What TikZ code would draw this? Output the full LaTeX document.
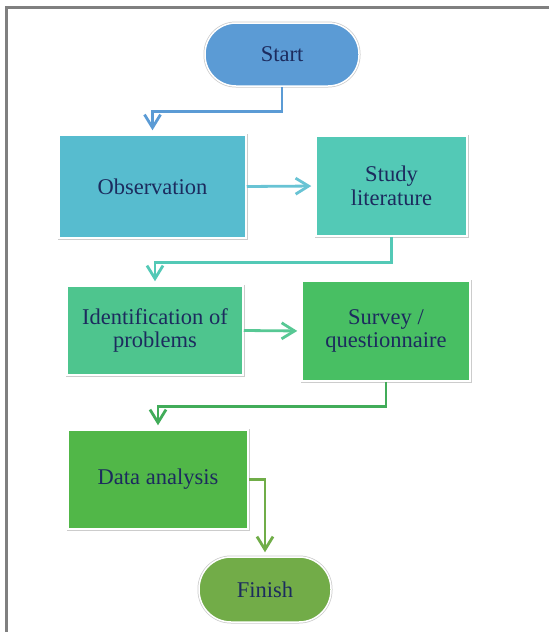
\documentclass[tikz,border=0pt]{standalone}
\usepackage{fontspec}
\setmainfont{Liberation Serif}
\usetikzlibrary{arrows.meta}
\definecolor{cstart}{HTML}{5B9BD5}
\definecolor{cobs}{HTML}{57BCCF}
\definecolor{cstudy}{HTML}{53C9B6}
\definecolor{cident}{HTML}{4EC58E}
\definecolor{csurvey}{HTML}{48BF63}
\definecolor{cdata}{HTML}{51B748}
\definecolor{cfinish}{HTML}{72AC48}
\definecolor{ctext}{HTML}{1C2B5E}
\definecolor{cframe}{HTML}{808080}
\tikzset{
  box/.style={rectangle, inner sep=2pt, align=center, text=ctext,
    font=\fontsize{22.5}{23.5}\selectfont,
    preaction={draw=black!20, line width=3pt},
    draw=white, line width=1.5pt},
  term/.style={box, rounded corners=31pt},
  conn/.style={line width=2.8pt, -{Straight Barb[length=13pt,width=16pt,line width=2.8pt]}, shorten >=4pt}
}
\begin{document}
\begin{tikzpicture}[x=1pt,y=-1pt]
\useasboundingbox (0,0) rectangle (549,632);
\draw[cframe, line width=2.5pt] (6.5,632) -- (6.5,7.5) -- (549,7.5);
\node[term, fill=cstart, minimum width=154pt, minimum height=63pt] (start) at (282,54.5) {Start};
\node[box, fill=cobs, minimum width=187pt, minimum height=103pt] (obs) at (152.5,186.5) {Observation};
\node[box, fill=cstudy, minimum width=151pt, minimum height=100pt] (study) at (391.5,186) {Study\\literature};
\node[box, fill=cident, minimum width=176pt, minimum height=89pt] (ident) at (155,330.5) {Identification of\\problems};
\node[box, fill=csurvey, minimum width=168pt, minimum height=100pt] (survey) at (386,331) {Survey /\\questionnaire};
\node[box, fill=cdata, minimum width=180pt, minimum height=99pt] (data) at (158,479.5) {Data analysis};
\node[term, fill=cfinish, minimum width=132pt, minimum height=65pt, rounded corners=32pt] (finish) at (265,589.5) {Finish};
\draw[conn, cstart] (start.south) -- ++(0,25) -| (obs.north);
\draw[conn, cobs!90!white] (obs.east) -- (study.west);
\draw[conn, cstudy] (study.south) -- ++(0,26) -| (ident.north);
\draw[conn, cident!95!white] (ident.east) -- (survey.west);
\draw[conn, csurvey!90!black] (survey.south) -- ++(0,25) -| (data.north);
\draw[conn, cfinish!95!cdata] (data.east) -| (finish.north);
\end{tikzpicture}
\end{document}
